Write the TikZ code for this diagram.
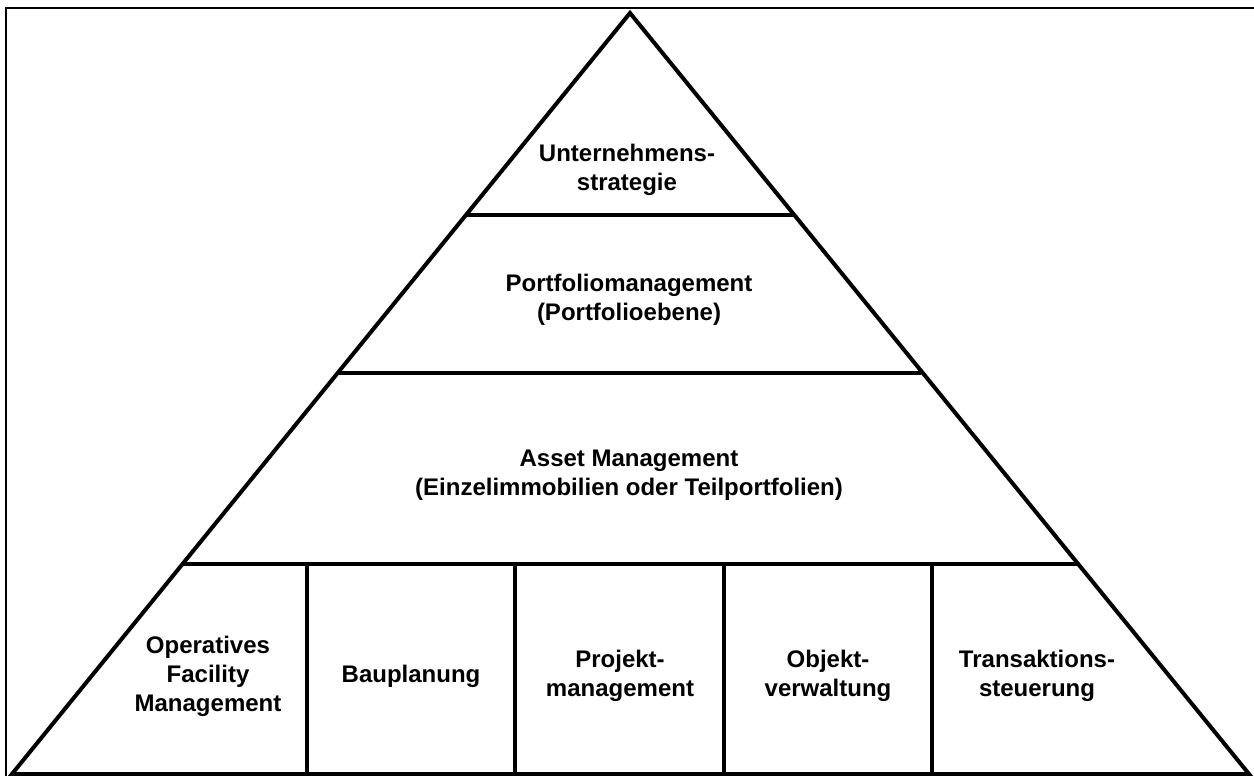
\documentclass[tikz,border=0pt]{standalone}
\usepackage{fontspec}
\setmainfont{Liberation Sans}
\usetikzlibrary{calc}
\begin{document}
\begin{tikzpicture}[x=1pt,y=-1pt,
  tri/.style={line width=4pt,line join=miter},
  frame/.style={line width=1.6pt},
  lbl/.style={align=center,font=\fontsize{24}{29}\selectfont\bfseries,inner sep=0pt}]
\useasboundingbox (0,0) rectangle (1254,776);
\coordinate (A) at (630,13);
\coordinate (L) at (12,774);
\coordinate (R) at (1249,774);
% frame
\draw[frame] (6,776) -- (6,8) -- (1254,8);
% triangle
\draw[tri] (A) -- (L) -- (R) -- cycle;
% horizontal dividers
\draw[tri] ($(A)!0.2654!(L)$) -- ($(A)!0.2654!(R)$);
\draw[tri] ($(A)!0.4731!(L)$) -- ($(A)!0.4731!(R)+(-2,0)$);
\draw[tri] ($(A)!0.7241!(L)$) -- ($(A)!0.7241!(R)$);
% vertical dividers
\foreach \x in {307,515,724,932}{
  \draw[tri] (\x,564) -- (\x,774);
}
% labels
\node[lbl] (t1) at (627,170) {Unternehmens-\\strategie};
\node[lbl] (t2) at (629,300) {Portfoliomanagement\\(Portfolioebene)};
\node[lbl] (t3) at (629,475) {Asset Management\\(Einzelimmobilien oder Teilportfolien)};
\node[lbl] (b1) at (208,676) {Operatives\\Facility\\Management};
\node[lbl] (b2) at (411,676) {Bauplanung};
\node[lbl] (b3) at (620,676) {Projekt-\\management};
\node[lbl] (b4) at (828,676) {Objekt-\\verwaltung};
\node[lbl] (b5) at (1037,676) {Transaktions-\\steuerung};
\end{tikzpicture}
\end{document}
